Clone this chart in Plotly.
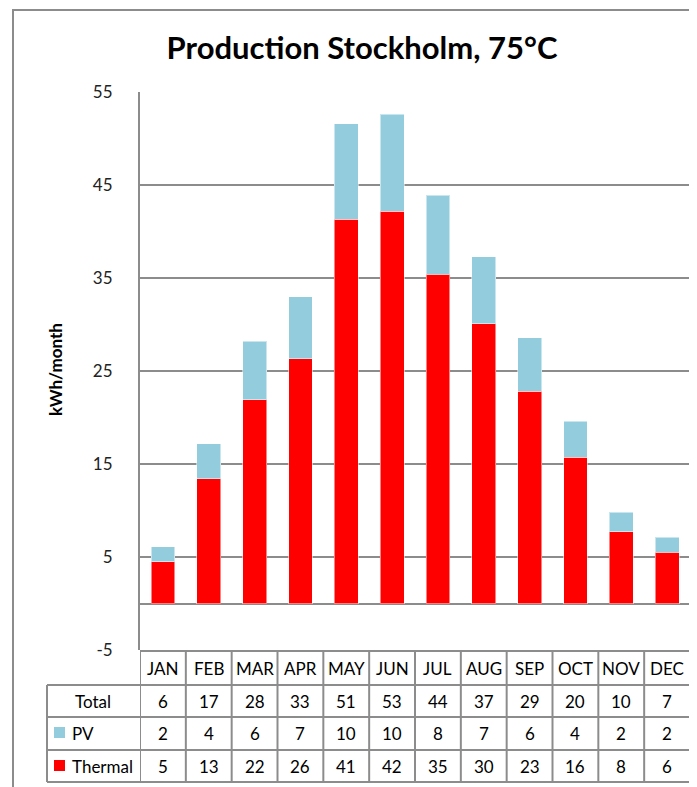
import plotly.graph_objects as go

months = ["JAN", "FEB", "MAR", "APR", "MAY", "JUN", "JUL", "AUG", "SEP", "OCT", "NOV", "DEC"]
thermal = [4.5, 13.4, 21.9, 26.3, 41.3, 42.2, 35.4, 30.1, 22.8, 15.7, 7.7, 5.5]
pv = [1.6, 3.8, 6.3, 6.7, 10.3, 10.4, 8.5, 7.2, 5.8, 3.9, 2.1, 1.6]

total_row = ["6", "17", "28", "33", "51", "53", "44", "37", "29", "20", "10", "7"]
pv_row = ["2", "4", "6", "7", "10", "10", "8", "7", "6", "4", "2", "2"]
thermal_row = ["5", "13", "22", "26", "41", "42", "35", "30", "23", "16", "8", "6"]

y_ticks = [-5, 5, 15, 25, 35, 45, 55]
y_tick_text = ["-5", "5", "15", "25", "35", "45", "55"]

# page has an 8px body margin; figure coordinates are shifted accordingly
OFF = 8
W, H = 697 - OFF, 787 - OFF
REF_L, REF_R, REF_T, REF_B = 140, 690, 92, 650
L, R, T, B = REF_L - OFF, REF_R - OFF, REF_T - OFF, REF_B - OFF
FONT = "Lato, Roboto, sans-serif"
GRID = "#8c8c8c"
PV_COLOR = "#93CDDD"
TH_COLOR = "#FF0000"


def px(x):
    return (x - REF_L) / (REF_R - REF_L)


def py(y):
    return (REF_B - y) / (REF_B - REF_T)


fig = go.Figure()
fig.add_trace(go.Bar(x=months, y=thermal, name="Thermal",
                     marker=dict(color=TH_COLOR, line=dict(color="rgba(255,255,255,0.5)", width=1)), width=0.52))
fig.add_trace(go.Bar(x=months, y=pv, name="PV",
                     marker=dict(color=PV_COLOR, line=dict(color="rgba(255,255,255,0.5)", width=1)), width=0.52))

shapes = []
annotations = []

# outer chart frame
shapes.append(dict(type="rect", xref="paper", yref="paper", x0=px(13), x1=px(760), y0=py(10), y1=py(830),
                   line=dict(color="#8c8c8c", width=2), fillcolor="rgba(0,0,0,0)", layer="below"))

line_style = dict(color=GRID, width=2)
# table horizontal lines
shapes.append(dict(type="line", xref="paper", yref="paper", x0=0, x1=1, y0=py(REF_B + 1), y1=py(REF_B + 1), line=line_style))
for yy in [685, 717, 750, 782]:
    shapes.append(dict(type="line", xref="paper", yref="paper", x0=px(47), x1=1, y0=py(yy), y1=py(yy), line=line_style))
# table vertical lines at category boundaries
for i in range(len(months) + 1):
    shapes.append(dict(type="line", xref="x", yref="paper", x0=i - 0.5, x1=i - 0.5, y0=py(REF_B), y1=py(782), line=line_style))
shapes.append(dict(type="line", xref="paper", yref="paper", x0=px(47), x1=px(47), y0=py(685), y1=py(782), line=line_style))

cell_font = dict(family=FONT, size=17, color="#000000")
row_centers = {"hdr": 668, "total": 701, "pv": 733, "thermal": 766}


def cell(x, y, text, xref="x", xanchor="center"):
    annotations.append(dict(x=x, y=y, xref=xref, yref="paper", text=text, showarrow=False,
                            xanchor=xanchor, yanchor="middle", font=cell_font))


for i, m in enumerate(months):
    cell(m, py(row_centers["hdr"]), m)
    cell(m, py(row_centers["total"]), total_row[i])
    cell(m, py(row_centers["pv"]), pv_row[i])
    cell(m, py(row_centers["thermal"]), thermal_row[i])

cell(px(93), py(row_centers["total"]), "Total", xref="paper")
cell(px(70), py(row_centers["pv"]), "PV", xref="paper", xanchor="left")
cell(px(70), py(row_centers["thermal"]), "Thermal", xref="paper", xanchor="left")
# legend keys
shapes.append(dict(type="rect", xref="paper", yref="paper", x0=px(54), x1=px(65), y0=py(row_centers["pv"] - 6), y1=py(row_centers["pv"] + 5),
                   fillcolor=PV_COLOR, line=dict(width=0)))
shapes.append(dict(type="rect", xref="paper", yref="paper", x0=px(54), x1=px(65), y0=py(row_centers["thermal"] - 6), y1=py(row_centers["thermal"] + 5),
                   fillcolor=TH_COLOR, line=dict(width=0)))

# y-axis title
annotations.append(dict(x=px(55), y=py(370), xref="paper", yref="paper", text="<b>kWh/month</b>", textangle=-90, showarrow=False,
                        xanchor="center", yanchor="middle", font=dict(family=FONT, size=17, color="#000000")))

fig.update_layout(
    width=W, height=H,
    margin=dict(l=L, r=W - R, t=T, b=H - B, autoexpand=False),
    paper_bgcolor="white", plot_bgcolor="white",
    barmode="stack",
    showlegend=False,
    title=dict(text="<b>Production Stockholm, 75°C</b>", x=(362 - OFF) / W, xanchor="center", y=1 - (48 - OFF) / H, yanchor="middle",
               font=dict(family=FONT, size=31, color="#000000")),
    xaxis=dict(range=[-0.5, 11.5], showticklabels=False, showgrid=False, showline=False, zeroline=False, fixedrange=True),
    yaxis=dict(range=[-5, 55], tickvals=y_ticks, ticktext=y_tick_text, showgrid=True, gridcolor=GRID, gridwidth=2,
               zeroline=True, zerolinecolor=GRID, zerolinewidth=2,
               showline=True, linecolor=GRID, linewidth=2, ticks="", ticklabelstandoff=22,
               tickfont=dict(family=FONT, size=17, color="#222222")),
    shapes=shapes,
    annotations=annotations,
)

fig.write_html("out.html")
